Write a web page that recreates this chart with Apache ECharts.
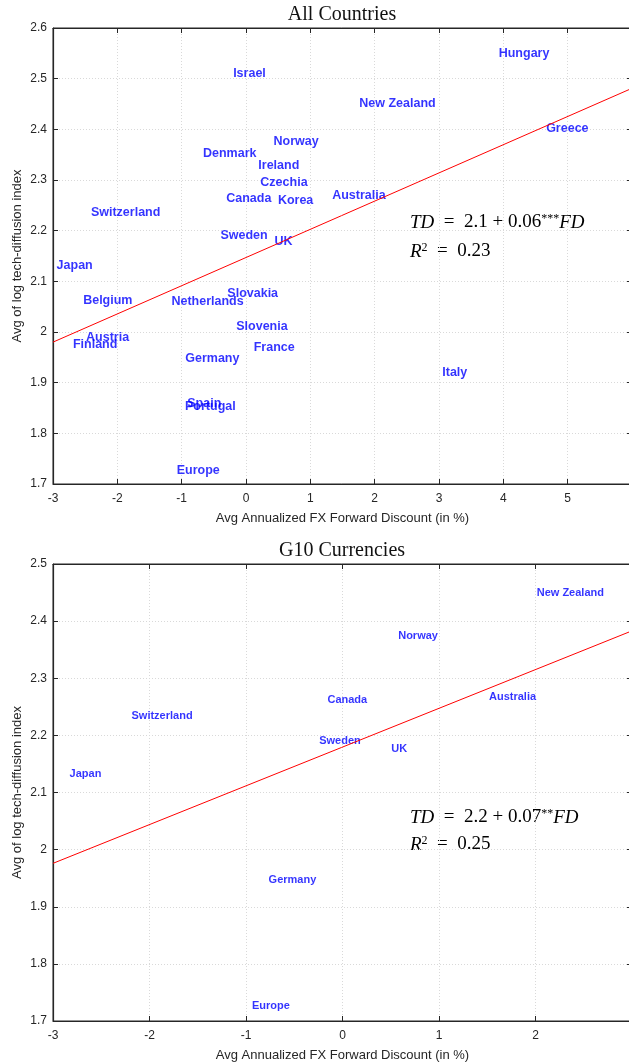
<!DOCTYPE html>
<html><head><meta charset="utf-8">
<script src="https://cdn.jsdelivr.net/npm/echarts@6/dist/echarts.min.js"></script>
<style>html,body{margin:0;padding:0;background:#fff}#c{width:629px;height:1064px}</style>
</head><body><div id="c"></div>
<script>
// ---- Data: All Countries ----
const allNames = ['Israel','Hungary','New Zealand','Greece','Norway','Denmark','Ireland','Czechia','Canada','Korea','Australia','Switzerland','Sweden','UK','Japan','Belgium','Netherlands','Slovakia','Slovenia','Austria','Finland','France','Germany','Spain','Portugal','Europe','Italy'];
const allFD = [0.054,4.322,2.355,4.995,0.779,-0.253,0.510,0.590,0.044,0.771,1.755,-1.871,-0.031,0.582,-2.663,-2.148,-0.598,0.104,0.248,-2.151,-2.345,0.438,-0.523,-0.649,-0.554,-0.742,3.245];
const allTD = [2.511,2.549,2.451,2.401,2.376,2.352,2.328,2.295,2.263,2.259,2.270,2.236,2.191,2.179,2.132,2.063,2.060,2.076,2.010,1.989,1.976,1.969,1.947,1.859,1.853,1.726,1.919];
const allFitX = [-3, 6];
const allFitY = [1.980, 2.481];

// ---- Data: G10 Currencies ----
const g10Names = ['Japan','Switzerland','Canada','Sweden','UK','Norway','Australia','New Zealand','Germany','Europe'];
const g10FD = [-2.663,-1.870,0.050,-0.026,0.588,0.783,1.762,2.361,-0.519,-0.742];
const g10TD = [2.132,2.234,2.262,2.190,2.176,2.374,2.268,2.449,1.947,1.726];
const g10FitX = [-3, 3];
const g10FitY = [1.976, 2.383];

const titles = ['All Countries', 'G10 Currencies'];
const xName = 'Avg Annualized FX Forward Discount (in %)';
const yName = 'Avg of log tech-diffusion index';

const dark = '#262626';
const sans = 'Liberation Sans';
const serif = 'Liberation Serif';

function pts(xs, ys, names) { return xs.map((x, i) => names ? [x, ys[i], names[i]] : [x, ys[i]]); }

const grids = [
  {left: 53, top: 28, width: 579, height: 456, show: true, borderColor: dark, borderWidth: 1, outerBoundsMode: 'none', containLabel: false},
  {left: 53, top: 564, width: 579, height: 457, show: true, borderColor: dark, borderWidth: 1, outerBoundsMode: 'none', containLabel: false}
];
const xr = [[-3, 6], [-3, 3]];
const yr = [[1.7, 2.6], [1.7, 2.5]];

const xAxis = [], yAxis = [];
for (let g = 0; g < 2; g++) {
  xAxis.push({
    gridIndex: g, type: 'value', min: xr[g][0], max: xr[g][1], interval: 1, position: 'bottom',
    name: xName, nameLocation: 'middle', nameGap: 28, nameMoveOverlap: false,
    nameTextStyle: {fontFamily: sans, fontSize: 13, color: dark},
    axisLine: {show: true, onZero: false, lineStyle: {color: dark, width: 1.2}},
    axisTick: {show: true, inside: true, length: 5, lineStyle: {color: dark}},
    axisLabel: {fontFamily: sans, fontSize: 12, color: dark, margin: 9, showMaxLabel: true},
    splitLine: {show: true, lineStyle: {type: [1, 2], color: '#d9d9d9', width: 1}}
  });
  xAxis.push({
    gridIndex: g, type: 'value', min: xr[g][0], max: xr[g][1], interval: 1, position: 'top',
    axisLine: {show: true, onZero: false, lineStyle: {color: dark, width: 1.2}},
    axisTick: {show: true, inside: true, length: 5, lineStyle: {color: dark}},
    axisLabel: {show: false}, splitLine: {show: false}
  });
  yAxis.push({
    gridIndex: g, type: 'value', min: yr[g][0], max: yr[g][1], interval: 0.1, position: 'left',
    name: yName, nameLocation: 'middle', nameGap: 29, nameMoveOverlap: false,
    nameTextStyle: {fontFamily: sans, fontSize: 13, color: dark},
    axisLine: {show: true, onZero: false, lineStyle: {color: dark, width: 1.2}},
    axisTick: {show: true, inside: true, length: 5, lineStyle: {color: dark}},
    axisLabel: {fontFamily: sans, fontSize: 12, color: dark, margin: 6,
      formatter: v => String(Math.round(v * 10) / 10)},
    splitLine: {show: true, lineStyle: {type: [1, 2], color: '#d9d9d9', width: 1}}
  });
  yAxis.push({
    gridIndex: g, type: 'value', min: yr[g][0], max: yr[g][1], interval: 0.1, position: 'right',
    axisLine: {show: true, onZero: false, lineStyle: {color: dark, width: 1.2}},
    axisTick: {show: true, inside: true, length: 5, lineStyle: {color: dark}},
    axisLabel: {show: false}, splitLine: {show: false}
  });
}

function labelSeries(g, data, fs) {
  return {
    type: 'scatter', xAxisIndex: g * 2, yAxisIndex: g * 2, data: data,
    symbolSize: 1, itemStyle: {color: 'rgba(0,0,0,0)'}, silent: true, animation: false,
    label: {show: true, position: 'inside', formatter: p => p.data[2],
      fontFamily: sans, fontWeight: 'bold', fontSize: fs, color: '#0000ff',
      textBorderWidth: 0},
    labelLayout: {hideOverlap: false}
  };
}
function fitSeries(g, data) {
  return {type: 'line', xAxisIndex: g * 2, yAxisIndex: g * 2, data: data, symbol: 'none',
    lineStyle: {color: '#ff0000', width: 1}, animation: false, silent: true, clip: true};
}

const rich = {
  m: {fontFamily: serif, fontSize: 19, color: '#111'},
  it: {fontFamily: serif, fontStyle: 'italic', fontSize: 19, color: '#111'},
  sup: {fontFamily: serif, fontSize: 12, color: '#111', verticalAlign: 'top'}
};

const option = {
  animation: false,
  title: [
    {text: titles[0], left: 337, top: 0, textAlign: 'center',
      textStyle: {fontFamily: serif, fontWeight: 'normal', fontSize: 20, color: '#111'}},
    {text: titles[1], left: 337, top: 536, textAlign: 'center',
      textStyle: {fontFamily: serif, fontWeight: 'normal', fontSize: 20, color: '#111'}}
  ],
  grid: grids, xAxis: xAxis, yAxis: yAxis,
  series: [
    fitSeries(0, pts(allFitX, allFitY)),
    labelSeries(0, pts(allFD, allTD, allNames), 12.5),
    fitSeries(1, pts(g10FitX, g10FitY)),
    labelSeries(1, pts(g10FD, g10TD, g10Names), 11)
  ],
  graphic: [
    {type: 'text', left: 410, top: 213, style: {text: '{it|TD}{m|  =  2.1 + 0.06}{sup|***}{it|FD}', rich: rich}},
    {type: 'text', left: 410, top: 242, style: {text: '{it|R}{sup|2}{m|  =  0.23}', rich: rich}},
    {type: 'text', left: 410, top: 808, style: {text: '{it|TD}{m|  =  2.2 + 0.07}{sup|**}{it|FD}', rich: rich}},
    {type: 'text', left: 410, top: 835, style: {text: '{it|R}{sup|2}{m|  =  0.25}', rich: rich}}
  ]
};
const chart = echarts.init(document.getElementById('c'), null, {renderer: 'canvas'});
chart.setOption(option);
</script></body></html>
